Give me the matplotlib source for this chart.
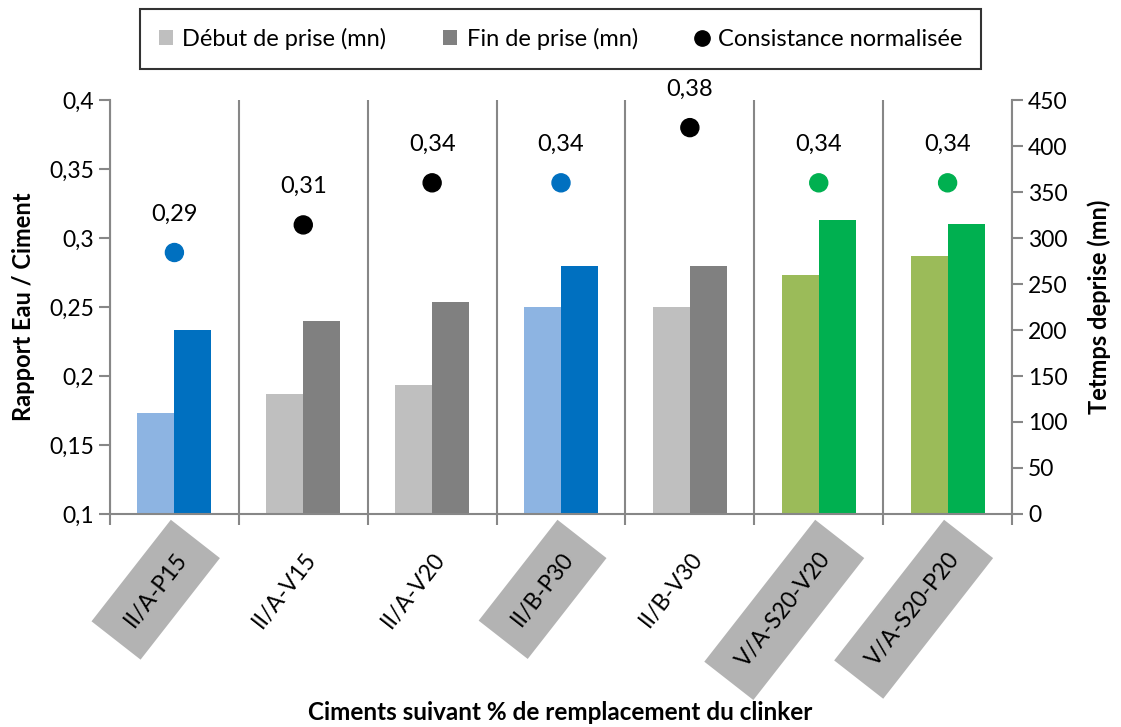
import matplotlib
matplotlib.use("Agg")
import matplotlib.pyplot as plt
from matplotlib.patches import Patch
from matplotlib.lines import Line2D
import numpy as np

plt.rcParams['font.family'] = ['Lato', 'DejaVu Sans']

# data
ciments = ["II/A-P15", "II/A-V15", "II/A-V20", "II/B-P30", "II/B-V30", "V/A-S20-V20", "V/A-S20-P20"]
debut_prise = [110, 130, 140, 225, 225, 260, 280]
fin_prise = [200, 210, 230, 270, 270, 320, 315]
consistance = [0.2895, 0.3095, 0.34, 0.34, 0.38, 0.34, 0.34]
consistance_txt = ["0,29", "0,31", "0,34", "0,34", "0,38", "0,34", "0,34"]
boxed = [True, False, False, True, False, True, True]

# colours per cement family
col_debut = ["#8DB4E2", "#BFBFBF", "#BFBFBF", "#8DB4E2", "#BFBFBF", "#9BBB59", "#9BBB59"]
col_fin = ["#0070C0", "#808080", "#808080", "#0070C0", "#808080", "#00B050", "#00B050"]
col_pt = ["#0070C0", "black", "black", "#0070C0", "black", "#00B050", "#00B050"]

axis_grey = "#878787"

fig = plt.figure(figsize=(11.21, 7.27), dpi=100)
ax = fig.add_axes([0.0981, 0.293, 0.8047, 0.5694])
ax2 = ax.twinx()

x = np.arange(len(ciments))
w = 0.287
ax2.bar(x - w / 2, debut_prise, w, color=col_debut, zorder=2)
ax2.bar(x + w / 2, fin_prise, w, color=col_fin, zorder=2)

ax.scatter(x, consistance, s=168, c=col_pt, zorder=5)
for xi, yi, t in zip(x, consistance, consistance_txt):
    ax.annotate(t, (xi, yi), xytext=(0, 20), textcoords="offset points",
                ha="center", va="bottom", fontsize=17)

# points over bars
ax.set_zorder(ax2.get_zorder() + 1)
ax.patch.set_visible(False)

ax.set_xlim(-0.5, len(ciments) - 0.5)
ax.set_ylim(0.1, 0.4)
ax2.set_ylim(0, 450)

yt = np.arange(0.1, 0.401, 0.05)
ax.set_yticks(yt)
ax.set_yticklabels([("%g" % round(v, 2)).replace(".", ",") for v in yt], fontsize=16.5)
ax2.set_yticks(np.arange(0, 451, 50))
ax2.tick_params(axis="y", labelsize=16.5)

# category ticks and vertical separators
ax.set_xticks(x)
ax.set_xticks(np.arange(-0.5, len(ciments), 1), minor=True)
ax.tick_params(axis="x", which="major", length=0, pad=25)
ax.tick_params(axis="x", which="minor", length=8, color=axis_grey, width=1.5)
ax.grid(axis="x", which="minor", color=axis_grey, linewidth=1.5)
labels = ax.set_xticklabels(ciments, rotation=52, ha="right", rotation_mode="anchor", fontsize=16.5)
for lab, b in zip(labels, boxed):
    if b:
        lab.set_bbox(dict(boxstyle="square,pad=0.9", facecolor="#B3B3B3", edgecolor="none"))

for a in (ax, ax2):
    for s in a.spines.values():
        s.set_color(axis_grey)
        s.set_linewidth(1.5)
    a.spines["top"].set_visible(False)
ax.spines["right"].set_visible(False)
ax2.spines["left"].set_visible(False)
ax2.spines["bottom"].set_visible(False)
ax.tick_params(axis="y", color=axis_grey, width=1.5, length=8)
ax2.tick_params(axis="y", color=axis_grey, width=1.5, length=8)

ax.set_ylabel("Rapport Eau / Ciment", fontsize=17, fontweight="bold", labelpad=10)
ax2.set_ylabel("Tetmps deprise (mn)", fontsize=17, fontweight="bold", labelpad=14)
fig.text(0.5, 0.02, "Ciments suivant % de remplacement du clinker", ha="center",
         va="center", fontsize=17.5, fontweight="bold")

handles = [Patch(facecolor="#BFBFBF"), Patch(facecolor="#808080"),
           Line2D([], [], marker="o", color="black", linestyle="none", markersize=11)]
leg = fig.legend(handles, ["Début de prise (mn)", "Fin de prise (mn)", "Consistance normalisée"],
                 loc="center", bbox_to_anchor=(0.5, 0.946), ncol=3, fontsize=17,
                 frameon=True, fancybox=False, handlelength=0.6, handleheight=0.6,
                 handletextpad=0.4, columnspacing=2.4, borderpad=0.8)
leg.get_frame().set_edgecolor("black")
leg.get_frame().set_linewidth(1.5)

fig.savefig("out.png", dpi=100)
